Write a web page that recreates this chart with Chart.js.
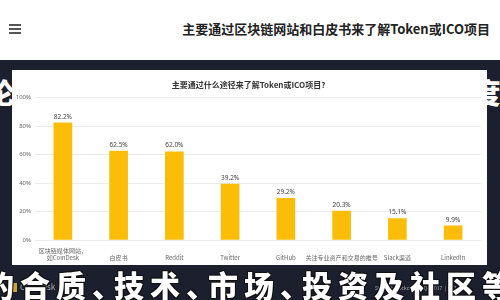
<!DOCTYPE html>
<html>
<head>
<meta charset="utf-8">
<script src="https://cdn.jsdelivr.net/npm/chart.js@4.4.0/dist/chart.umd.min.js"></script>
<style>
  body { margin: 0; width: 500px; height: 300px; overflow: hidden; position: relative; background: #1b1f2e; font-family: "Noto Sans CJK SC", "Noto Sans", sans-serif; }
  #top { position: absolute; left: 0; top: 0; width: 500px; height: 60px; background: #fff; }
  #menu { position: absolute; left: 9px; top: 24px; width: 12px; }
  #menu div { height: 2px; background: #555; margin-bottom: 2px; }
  #titulo { position: absolute; right: 10px; top: 19px; font-size: 13px; font-weight: bold; color: #222; white-space: nowrap; }
  #card { position: absolute; left: 12px; top: 70px; width: 475px; height: 195px; background: #fff; z-index: 2; }
  #card canvas { display: block; }
  #fila1 { position: absolute; left: -14px; top: 72px; font-size: 28px; font-weight: 900; color: #fff; white-space: nowrap; letter-spacing: 8px; z-index: 1; }
  #fila2 { position: absolute; left: -16px; top: 262px; font-size: 30px; font-weight: 900; color: #fff; white-space: nowrap; letter-spacing: 6px; z-index: 4;
           text-shadow: 1px 1px 0 #111, -1px -1px 0 #111, 1px -1px 0 #111, -1px 1px 0 #111; }
  #fila2 span { margin-right: -14px; }
  #logo { position: absolute; left: 10px; top: 281px; font-size: 8px; color: #aaa; z-index: 3; }
  #logo b { display: inline-block; width: 7px; height: 9px; background: #c8a23a; vertical-align: middle; margin-right: 3px; }
  #pie { position: absolute; left: 375px; top: 284px; font-size: 5px; color: #aaa; z-index: 3; white-space: nowrap; }
</style>
</head>
<body>
<div id="top">
  <div id="menu"><div></div><div></div><div></div></div>
  <div id="titulo">主要通过区块链网站和白皮书来了解Token或ICO项目</div>
</div>
<div id="fila1">论Token与ICO项目价值的深度研究</div>
<div id="card"><canvas id="myChart" width="475" height="195"></canvas></div>
<div id="fila2">的合质<span>、</span>技术<span>、</span>市场<span>、</span>投资及社区等</div>
<div id="logo"><b></b>CoinDesk</div>
<div id="pie">State of Blockchain - Q4 2017 &nbsp;|&nbsp; 143</div>
<script>
// Datos

const tituloGrafico = "主要通过什么途径来了解Token或ICO项目?";
const categorias = [
  ["区块链媒体网站，", "如CoinDesk"],
  "白皮书",
  "Reddit",
  "Twitter",
  "GitHub",
  "关注专业资产和交易的推号",
  "Slack渠道",
  "LinkedIn",
];
const valores = [82.2, 62.5, 62.0, 39.2, 29.2, 20.3, 15.1, 9.9];
const ticksY = [0, 20, 40, 60, 80, 100];

const ctx = document.getElementById("myChart");

// Etiquetas encima de cada barra
const etiquetasBarras = {
  id: "etiquetasBarras",
  afterDatasetsDraw(chart) {
    const c = chart.ctx;
    const meta = chart.getDatasetMeta(0);
    c.save();
    c.font = "6.5px 'Noto Sans', sans-serif";
    c.fillStyle = "#444";
    c.textAlign = "center";
    c.textBaseline = "bottom";
    meta.data.forEach((barra, i) => {
      c.fillText(valores[i].toFixed(1) + "%", barra.x, barra.y - 3);
    });
    c.restore();
  },
};

new Chart(ctx, {
  type: "bar",
  data: {
    labels: categorias,
    datasets: [
      {
        data: valores,
        backgroundColor: "#fbbd08",
        barThickness: 18,
      },
    ],
  },
  options: {
    responsive: false,
    animation: false,
    layout: { padding: { left: 4, right: 6, top: 0, bottom: 2 } },
    plugins: {
      legend: { display: false },
      tooltip: { enabled: false },
      title: {
        display: true,
        text: tituloGrafico,
        color: "#333",
        font: { size: 8, family: "'Noto Sans CJK SC', sans-serif" },
        padding: { top: 10, bottom: 8 },
      },
    },
    scales: {
      y: {
        min: 0,
        max: 100,
        afterFit: (scale) => { scale.width = 19; },
        afterBuildTicks: (scale) => { scale.ticks = ticksY.map((v) => ({ value: v })); },
        ticks: {
          color: "#666",
          font: { size: 6, family: "'Noto Sans', sans-serif" },
          padding: 4,
          callback: (v) => v + "%",
        },
        grid: { color: "#ebebeb", drawTicks: false },
        border: { display: false },
      },
      x: {
        afterFit: (scale) => { scale.height = 23; },
        ticks: {
          color: "#666",
          font: { size: 6, family: "'Noto Sans CJK SC', sans-serif" },
          padding: 3,
          maxRotation: 0,
          autoSkip: false,
          crossAlign: "far",
        },
        grid: { display: false },
        border: { display: false },
      },
    },
  },
  plugins: [etiquetasBarras],
});
</script>
</body>
</html>
